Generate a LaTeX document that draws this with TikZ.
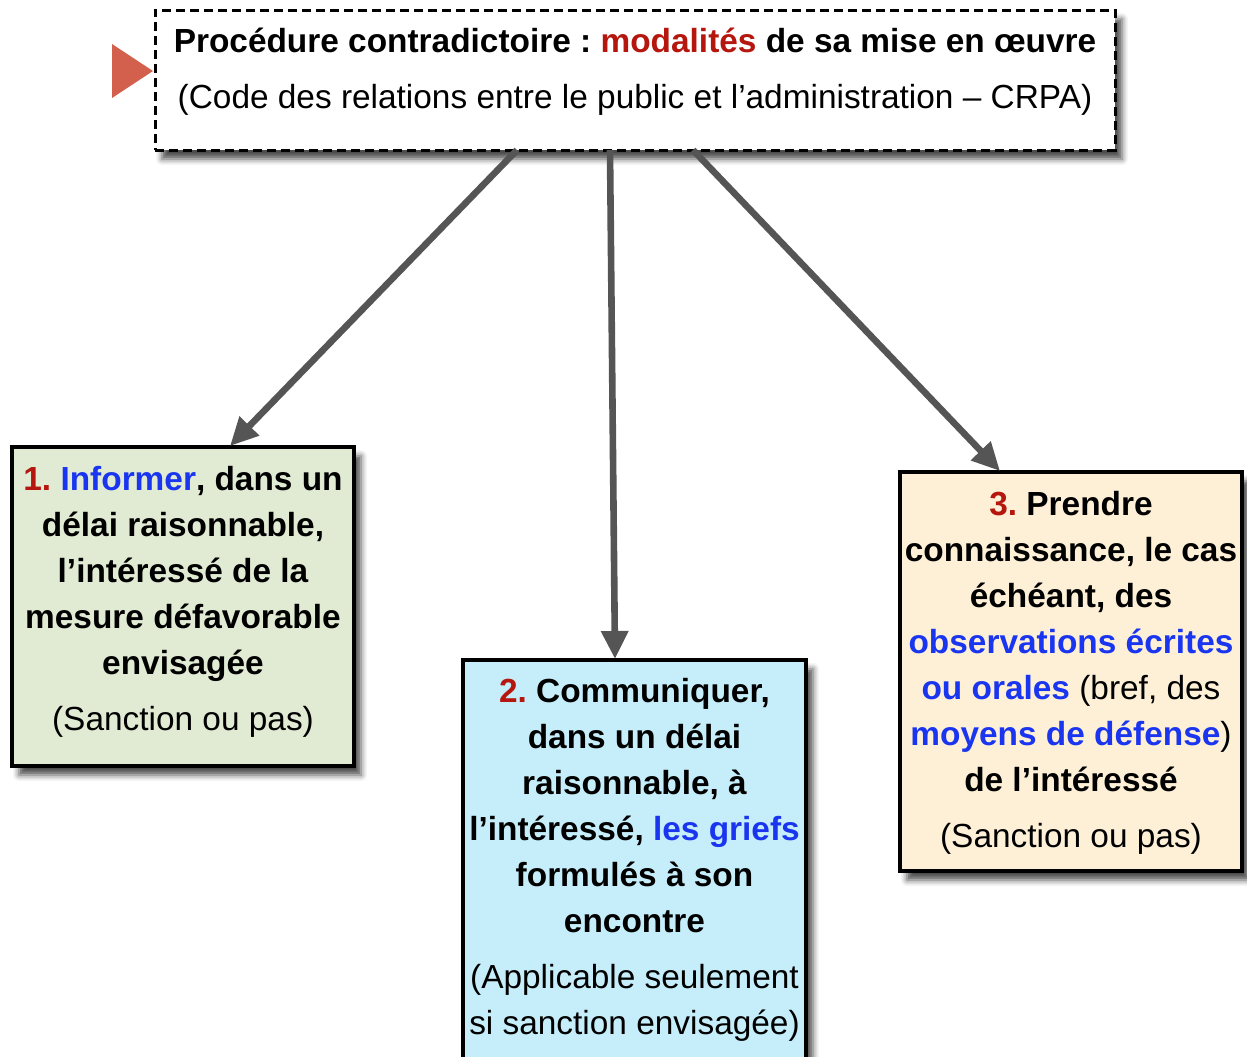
\documentclass[tikz,border=0pt]{standalone}
\usepackage{fontspec}
\setmainfont{Liberation Sans}
\usetikzlibrary{arrows.meta,shadows.blur}
\definecolor{redt}{HTML}{B5170E}
\definecolor{bluet}{HTML}{1A35F0}
\definecolor{tri}{HTML}{D2604C}
\definecolor{gr}{HTML}{E1EBD4}
\definecolor{cy}{HTML}{C6EEFA}
\definecolor{be}{HTML}{FDF0D7}
\definecolor{arr}{HTML}{555555}
\frenchspacing
\begin{document}
\begin{tikzpicture}[x=0.5pt,y=-0.5pt,
 boxstyle/.style={draw=black, line width=1.6pt, rectangle, inner sep=0pt,
   blur shadow={shadow xshift=3.5pt, shadow yshift=-4.5pt, shadow blur radius=3pt, shadow opacity=70}},
 txt/.style={anchor=north, align=center, inner sep=0pt, font=\fontsize{16.7pt}{23pt}\selectfont\bfseries},
 conn/.style={draw=arr, line width=3.3pt, -{Triangle[length=14pt,width=13pt]}},
 ]
\useasboundingbox (0,0) rectangle (1247,1056);

% boxes
\node[boxstyle, fill=white, dash pattern=on 4.5pt off 2.5pt, line width=1.5pt,
      minimum width=480pt, minimum height=70pt] (top) at (635,80) {};
\node[boxstyle, fill=gr, minimum width=171pt, minimum height=159.5pt] (box1) at (183,606.5) {};
\node[boxstyle, fill=cy, minimum width=171.5pt, minimum height=220pt] (box2) at (634.5,880) {};
\node[boxstyle, fill=be, minimum width=171pt, minimum height=199.5pt] (box3) at (1071,671.5) {};

% red marker
\fill[tri] (112,44) -- (112,98) -- (153,71) -- cycle;

% texts
\node[txt] (ttop) at (635,28) {Procédure contradictoire : \textcolor{redt}{modalités} de sa mise en œuvre\\[5pt]{\mdseries (Code des relations entre le public et l’administration – CRPA)}};

\node[txt] (t1) at (183,466) {\textcolor{redt}{1.} \textcolor{bluet}{Informer}, dans un\\délai raisonnable,\\l’intéressé de la\\mesure défavorable\\envisagée\\[5pt]{\mdseries (Sanction ou pas)}};

\node[txt] (t2) at (634.5,678) {\textcolor{redt}{2.} Communiquer,\\dans un délai\\raisonnable, à\\l’intéressé, \textcolor{bluet}{les griefs}\\formulés à son\\encontre\\[5pt]{\mdseries (Applicable seulement}\\{\mdseries si sanction envisagée)}};

\node[txt] (t3) at (1071,491) {\textcolor{redt}{3.} Prendre\\connaissance, le cas\\échéant, des\\\textcolor{bluet}{observations écrites}\\\textcolor{bluet}{ou orales} {\mdseries (bref, des}\\\textcolor{bluet}{moyens de défense}{\mdseries )}\\de l’intéressé\\[5pt]{\mdseries (Sanction ou pas)}};

% connectors
\coordinate (s1) at (517,150);
\coordinate (e1) at (230,446);
\coordinate (s2) at (610,150);
\coordinate (e2) at (615,659);
\coordinate (s3) at (693,150);
\coordinate (e3) at (1000,471);
\draw[conn] (s1) -- (e1);
\draw[conn] (s2) -- (e2);
\draw[conn] (s3) -- (e3);
\end{tikzpicture}
\end{document}
